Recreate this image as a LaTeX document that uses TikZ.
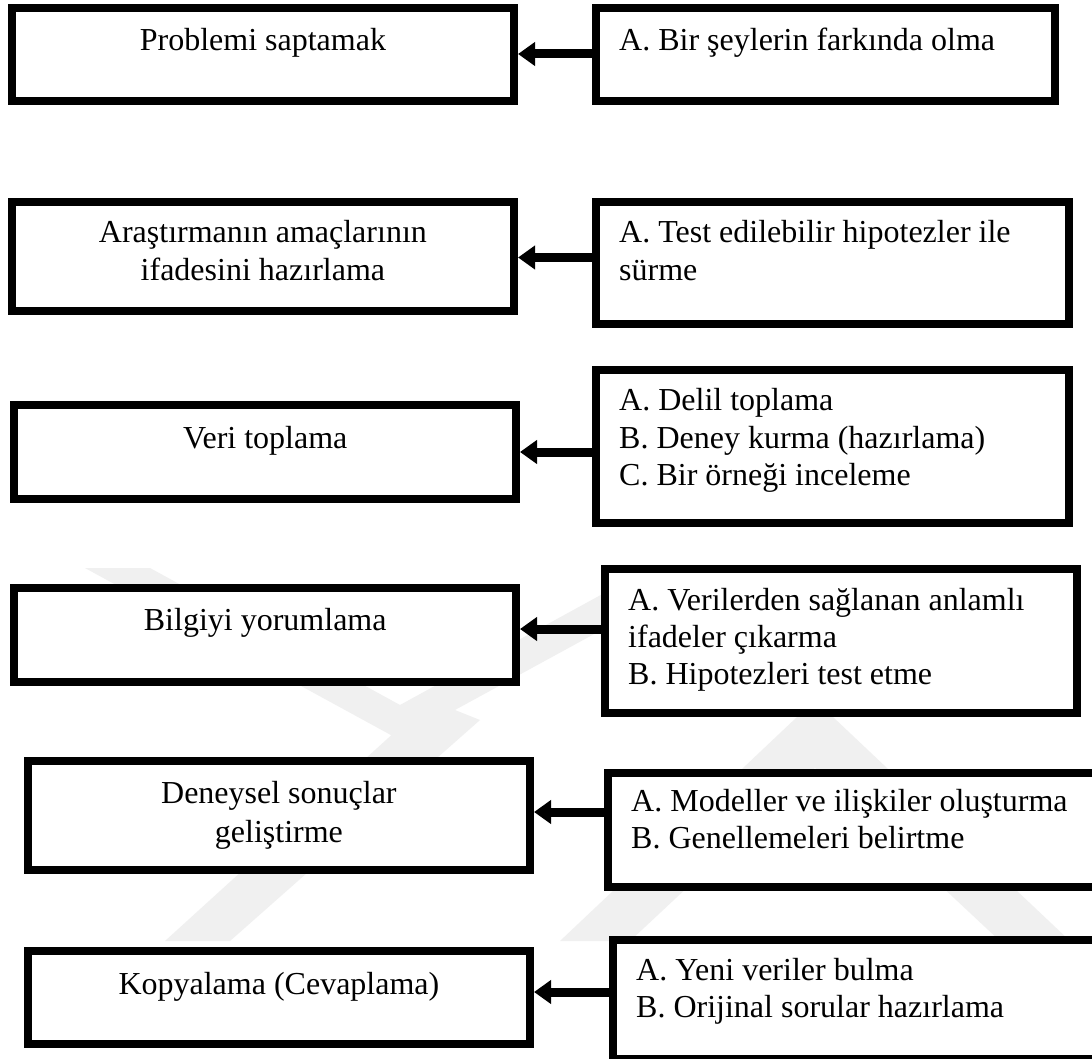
\documentclass[tikz,border=0pt]{standalone}
\usepackage{fontspec}
\setmainfont{Liberation Serif}
\usetikzlibrary{arrows.meta}
\begin{document}
\begin{tikzpicture}[x=1pt,y=-1pt,
  bx/.style={draw=black, line width=8pt, fill=white, inner sep=0pt},
  lt/.style={inner sep=0pt, anchor=base, font=\fontsize{32}{37.5}\selectfont},
  rt/.style={inner sep=0pt, anchor=base west, font=\fontsize{32}{37.5}\selectfont},
  arr/.style={line width=9pt, -{Triangle[length=17pt,width=23pt]}},
  emblem/.style={fill=black!6, draw=none}]
\useasboundingbox (0,0) rectangle (1092,1059);
\clip (0,0) rectangle (1092,1059);
\fill[white] (0,0) rectangle (1092,1059);

% faint background emblem
\fill[emblem] (85,568) -- (150,568) -- (400,705) -- (650,568) -- (715,568) -- (400,740) -- cycle;
\fill[emblem] (560,941) -- (815,700) -- (1070,941) -- (1000,941) -- (815,768) -- (630,941) -- cycle;
\fill[emblem] (165,941) -- (230,941) -- (480,720) -- (430,700) -- cycle;

% left column: the steps
\node[bx, minimum width=502.3pt, minimum height=93.5pt]  (l1) at (262.9,54.75)  {};
\node[bx, minimum width=502.3pt, minimum height=109pt]   (l2) at (262.9,256.5)  {};
\node[bx, minimum width=501.6pt, minimum height=94pt]    (l3) at (265.2,452)    {};
\node[bx, minimum width=501.6pt, minimum height=93.5pt]  (l4) at (265.2,634.75) {};
\node[bx, minimum width=502.3pt, minimum height=109.5pt] (l5) at (278.9,815.25) {};
\node[bx, minimum width=502.3pt, minimum height=93.5pt]  (l6) at (278.9,997.25) {};

% right column: the sub-steps
\node[bx, minimum width=458.6pt, minimum height=93.5pt] (r1) at (825.3,54.75)  {};
\node[bx, minimum width=472.5pt, minimum height=122pt]  (r2) at (832.25,263)   {};
\node[bx, minimum width=472.5pt, minimum height=153pt]  (r3) at (832.25,446.2) {};
\node[bx, minimum width=471.5pt, minimum height=144pt]  (r4) at (840.75,640.5) {};
\node[bx, minimum width=488pt,   minimum height=114pt]  (r5) at (852,830)      {};
\node[bx, minimum width=483.3pt, minimum height=119pt]  (r6) at (854.35,999.5) {};

% step texts
\node[lt] (t1)  at (262.9,51)   {Problemi saptamak};
\node[lt] (t2a) at (262.9,243)  {Araştırmanın amaçlarının};
\node[lt] (t2b) at (262.9,280.6){ifadesini hazırlama};
\node[lt] (t3)  at (265.2,448)  {Veri toplama};
\node[lt] (t4)  at (265.2,630)  {Bilgiyi yorumlama};
\node[lt] (t5a) at (278.9,803)  {Deneysel sonuçlar};
\node[lt] (t5b) at (278.9,842)  {geliştirme};
\node[lt] (t6)  at (278.9,994)  {Kopyalama (Cevaplama)};

% sub-step texts
\node[rt] (s1)  at (619,51)    {A. Bir şeylerin farkında olma};
\node[rt] (s2a) at (619,243)   {A. Test edilebilir hipotezler ile};
\node[rt] (s2b) at (619,280.6) {sürme};
\node[rt] (s3a) at (619,410.6) {A. Delil toplama};
\node[rt] (s3b) at (619,448)   {B. Deney kurma (hazırlama)};
\node[rt] (s3c) at (619,485)   {C. Bir örneği inceleme};
\node[rt] (s4a) at (628,610)   {A. Verilerden sağlanan anlamlı};
\node[rt] (s4b) at (628,647)   {ifadeler çıkarma};
\node[rt] (s4c) at (628,684.5) {B. Hipotezleri test etme};
\node[rt] (s5a) at (631,811)   {A. Modeller ve ilişkiler oluşturma};
\node[rt] (s5b) at (631,848.5) {B. Genellemeleri belirtme};
\node[rt] (s6a) at (636,980)   {A. Yeni veriler bulma};
\node[rt] (s6b) at (636,1017)  {B. Orijinal sorular hazırlama};

% connectors from each sub-step box to its step
\draw[arr] (r1.west |- 0,54)    -- (l1.east |- 0,54);
\draw[arr] (r2.west |- 0,257.5) -- (l2.east |- 0,257.5);
\draw[arr] (r3.west |- 0,452)   -- (l3.east |- 0,452);
\draw[arr] (r4.west |- 0,629)   -- (l4.east |- 0,629);
\draw[arr] (r5.west |- 0,812)   -- (l5.east |- 0,812);
\draw[arr] (r6.west |- 0,992)   -- (l6.east |- 0,992);
\end{tikzpicture}
\end{document}
